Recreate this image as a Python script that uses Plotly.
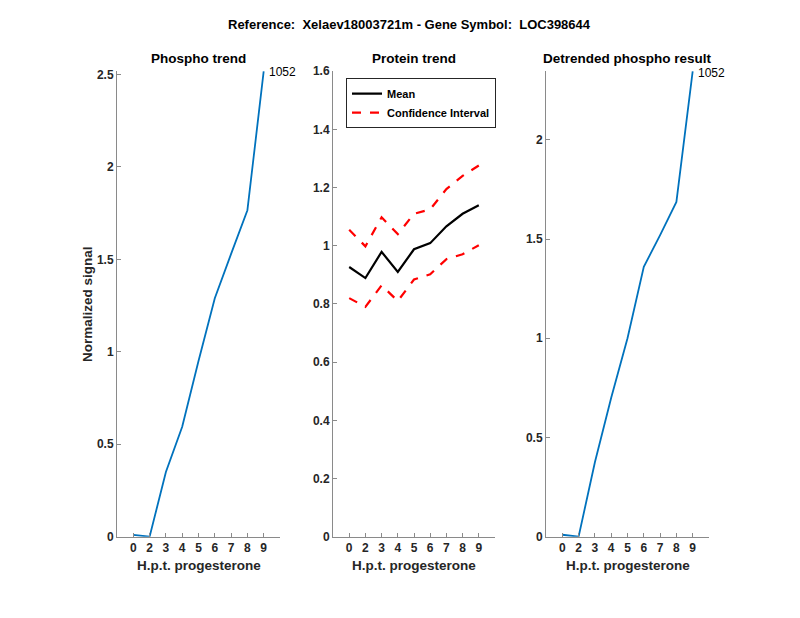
import plotly.graph_objects as go

# ---- data ----
time_labels = ["0", "2", "3", "4", "5", "6", "7", "8", "9"]
phospho_trend = [0.01, 0.0, 0.35, 0.595, 0.95, 1.29, 1.53, 1.766, 2.518]
protein_mean = [0.927, 0.889, 0.979, 0.910, 0.988, 1.009, 1.067, 1.110, 1.139]
protein_upper = [1.055, 0.998, 1.098, 1.040, 1.110, 1.125, 1.195, 1.240, 1.276]
protein_lower = [0.820, 0.790, 0.864, 0.810, 0.884, 0.902, 0.954, 0.971, 1.002]
detrended = [0.01, 0.0, 0.375, 0.70, 1.0, 1.36, 1.52, 1.687, 2.346]
peptide_id = "1052"

main_title = "Reference:\u00a0\u00a0Xelaev18003721m - Gene Symbol:\u00a0\u00a0LOC398644"
panel_titles = ["Phospho trend", "Protein trend", "Detrended phospho result"]
x_title = "H.p.t. progesterone"
y_title = "Normalized signal"

xpos = list(range(1, len(time_labels) + 1))

W, H = 800, 618
FONT = "Liberation Sans, Arial, sans-serif"
TXT = "#262626"
AX = "#8a8a8a"
BLUE = "#0072BD"

# map target pixel positions to paper fractions (observed page offset)
OFF_X, OFF_Y, PLOT_H = 8, 16, 602


def px(X):
    return (X - OFF_X) / W


def py(Y):
    return 1 - (Y - OFF_Y) / PLOT_H


panels_px = [(117, 280), (333, 495), (546, 709)]
top_px, bot_px = 72, 536
ydom = [py(bot_px), py(top_px)]

fig = go.Figure()

fig.add_trace(go.Scatter(x=xpos, y=phospho_trend, mode="lines",
                         line=dict(color=BLUE, width=1.8), showlegend=False,
                         xaxis="x", yaxis="y"))
fig.add_trace(go.Scatter(x=xpos, y=protein_mean, mode="lines", name="Mean",
                         line=dict(color="black", width=2.2),
                         xaxis="x2", yaxis="y2"))
fig.add_trace(go.Scatter(x=xpos, y=protein_upper, mode="lines", name="Confidence Interval",
                         line=dict(color="red", width=2.2, dash="dash"),
                         xaxis="x2", yaxis="y2"))
fig.add_trace(go.Scatter(x=xpos, y=protein_lower, mode="lines", name="Confidence Interval",
                         line=dict(color="red", width=2.2, dash="dash"), showlegend=False,
                         xaxis="x2", yaxis="y2"))
fig.add_trace(go.Scatter(x=xpos, y=detrended, mode="lines",
                         line=dict(color=BLUE, width=1.8), showlegend=False,
                         xaxis="x3", yaxis="y3"))

tickfont = dict(family=FONT, size=12, color=TXT, weight="bold")


def xaxis(i):
    l, r = panels_px[i]
    return dict(domain=[px(l), px(r)], range=[0, len(time_labels) + 1],
                tickvals=xpos, ticktext=time_labels, ticks="inside", ticklen=4,
                tickcolor=AX, showline=True, linecolor=AX, linewidth=1,
                showgrid=False, zeroline=False, tickfont=tickfont,
                anchor="y" if i == 0 else f"y{i+1}", fixedrange=True)


def yaxis(i, rng, dtick):
    return dict(domain=ydom, range=rng, dtick=dtick, ticks="inside", ticklen=4,
                tickcolor=AX, showline=True, linecolor=AX, linewidth=1,
                showgrid=False, zeroline=False, tickfont=tickfont,
                anchor="x" if i == 0 else f"x{i+1}", fixedrange=True)


fig.update_layout(
    width=W, height=H,
    margin=dict(l=0, r=0, t=0, b=0),
    paper_bgcolor="white", plot_bgcolor="white",
    xaxis=xaxis(0), xaxis2=xaxis(1), xaxis3=xaxis(2),
    yaxis=yaxis(0, [0, max(phospho_trend)], 0.5),
    yaxis2=yaxis(1, [0, 1.6], 0.2),
    yaxis3=yaxis(2, [0, max(detrended)], 0.5),
    legend=dict(x=px(346), y=py(79), xanchor="left", yanchor="top",
                bordercolor="#262626", borderwidth=1, bgcolor="white",
                font=dict(family=FONT, size=11, color="black", weight="bold"),
                tracegroupgap=0, itemwidth=30),
    showlegend=True,
)

ann = []
ann.append(dict(text=main_title, x=px(409), y=py(25), xref="paper", yref="paper",
                showarrow=False, xanchor="center", yanchor="middle",
                font=dict(family=FONT, size=13, color="black", weight="bold")))
for i, t in enumerate(panel_titles):
    l, r = panels_px[i]
    ann.append(dict(text=t, x=px((l + r) / 2), y=py(59.5), xref="paper", yref="paper",
                    showarrow=False, xanchor="center", yanchor="middle",
                    font=dict(family=FONT, size=13.5, color="black", weight="bold")))
    ann.append(dict(text=x_title, x=px((l + r) / 2), y=py(565), xref="paper", yref="paper",
                    showarrow=False, xanchor="center", yanchor="middle",
                    font=dict(family=FONT, size=13.5, color=TXT, weight="bold")))
ann.append(dict(text=y_title, x=px(88), y=py((top_px + bot_px) / 2),
                xref="paper", yref="paper", showarrow=False, textangle=-90,
                xanchor="center", yanchor="middle",
                font=dict(family=FONT, size=13.5, color=TXT, weight="bold")))
ann.append(dict(text=peptide_id, x=xpos[-1], y=phospho_trend[-1], xref="x", yref="y",
                showarrow=False, xanchor="left", yanchor="middle", xshift=3, yshift=-1,
                font=dict(family=FONT, size=12, color="black")))
ann.append(dict(text=peptide_id, x=xpos[-1], y=detrended[-1], xref="x3", yref="y3",
                showarrow=False, xanchor="left", yanchor="middle", xshift=3, yshift=-2,
                font=dict(family=FONT, size=12, color="black")))
fig.update_layout(annotations=ann)

fig.write_html("out.html")
